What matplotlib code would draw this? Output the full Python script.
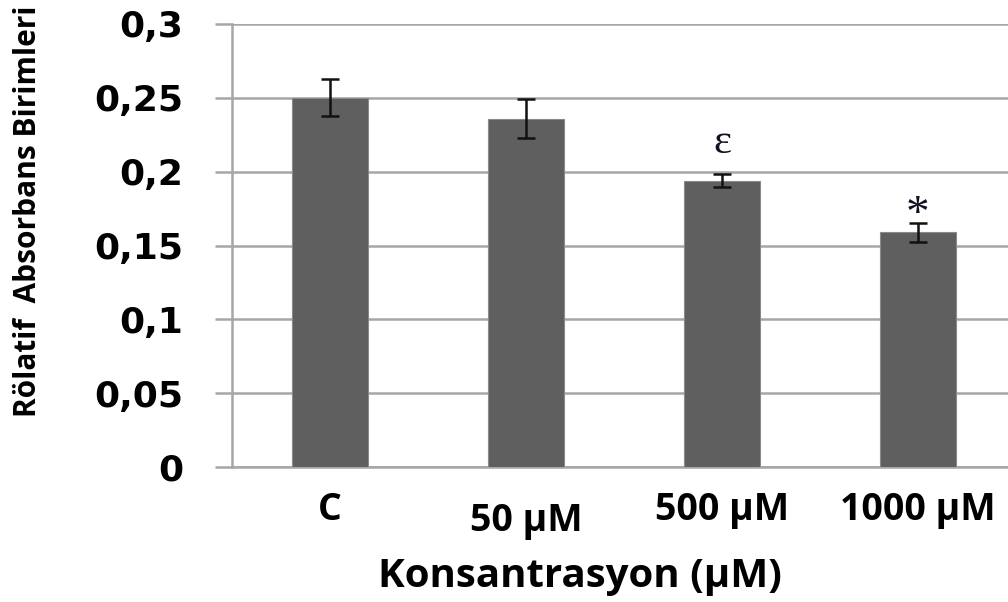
import matplotlib
matplotlib.use("Agg")
import matplotlib.pyplot as plt
from matplotlib.transforms import ScaledTranslation

categories = ["C", "50 μM", "500 μM", "1000 μM"]
values = [0.250, 0.236, 0.194, 0.159]
errors = [0.0125, 0.013, 0.0045, 0.0065]
markers = ["", "", "ε", "*"]
yticks = [0, 0.05, 0.1, 0.15, 0.2, 0.25, 0.3]
ytick_labels = ["0", "0,05", "0,1", "0,15", "0,2", "0,25", "0,3"]

fig = plt.figure(figsize=(10.08, 6.02), dpi=100)
ax = fig.add_axes([232/1008, 1-467/602, 1-232/1008, (467-24)/602])

x = list(range(len(categories)))
ax.bar(x, values, width=0.39, color="#5f5f5f", edgecolor="#8a8a8a", linewidth=0.8,
       zorder=3)
ax.errorbar(x, values, yerr=errors, fmt="none", ecolor="#111111", elinewidth=1.8,
            capsize=6.5, capthick=1.8, zorder=4)

for xi, v, e, m in zip(x, values, errors, markers):
    if m == "ε":
        ax.text(xi, v + e + 0.021, m, ha="center", va="center", fontsize=31,
                family="Liberation Serif", color="#111122", zorder=5)
    elif m:
        ax.text(xi, v + e + 0.0045, m, ha="center", va="center", fontsize=34,
                family="Liberation Serif", color="#111122", zorder=5)

ax.set_xlim(-0.5, (1008-232)/196 - 0.5)
ax.set_ylim(0, 0.3)
ax.set_yticks(yticks)
ax.set_yticklabels(ytick_labels, family="DejaVu Sans", fontweight="bold", fontsize=26)
ax.yaxis.grid(True, color="#a6a6a6", linewidth=1.8, zorder=0)
ax.tick_params(axis="y", length=12, width=1.8, color="#a6a6a6", pad=23)

ax.set_xticks(x)
ax.set_xticklabels(categories, family="Open Sans", fontweight="bold", fontsize=27)
ax.tick_params(axis="x", length=0, pad=17)
labs = ax.get_xticklabels()
labs[1].set_transform(labs[1].get_transform() + ScaledTranslation(0, -11/100, fig.dpi_scale_trans))

for s in ["top", "right"]:
    ax.spines[s].set_visible(False)
ax.spines["left"].set_color("#a6a6a6")
ax.spines["left"].set_linewidth(1.8)
ax.spines["bottom"].set_color("#a6a6a6")
ax.spines["bottom"].set_linewidth(1.8)

ax.set_ylabel("Rölatif  Absorbans Birimleri", family="Open Sans", fontweight="bold", fontsize=21.5)
ax.yaxis.set_label_coords((28-232)/776, (467-211)/443)
ax.yaxis.label.set_va("center")
ax.set_xlabel("Konsantrasyon (μM)", family="Open Sans", fontweight="bold", fontsize=29)
ax.xaxis.set_label_coords((580-232)/776, (467-576)/443)
ax.xaxis.label.set_va("center")

fig.savefig("out.png", dpi=100)
